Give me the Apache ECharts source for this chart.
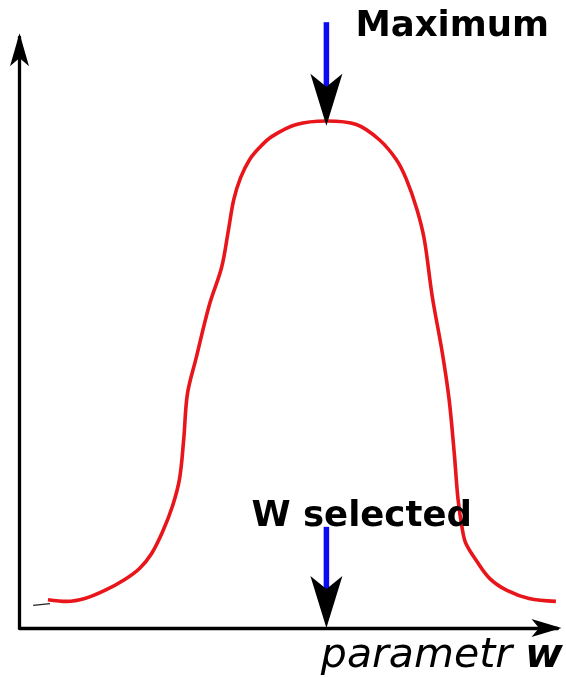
<!DOCTYPE html>
<html>
<head>
<meta charset="utf-8">
<title>Maximum of the objective over parameter w</title>
<script src="https://cdn.jsdelivr.net/npm/echarts@6/dist/echarts.min.js"></script>
<style>
  html, body { margin: 0; padding: 0; background: #fff; }
  #chart { width: 566px; height: 677px; }
</style>
</head>
<body>
<div id="chart"></div>
<script>
// Objective value as a function of the parameter w (arbitrary units)
const wValues = [5.4, 9.0, 12.4, 16.2, 20.0, 22.8, 25.1, 27.2, 29.1, 30.4, 31.2, 31.9, 33.5,
  36.1, 38.4, 39.7, 40.7, 42.0, 43.7, 45.6, 47.9, 52.6, 58.3, 64.0, 68.3, 71.6, 73.5, 75.5,
  76.9, 78.4, 80.3, 81.6, 82.6, 83.3, 84.1, 84.8, 86.9, 89.4, 92.6, 96.8, 101.9];
const objective = [4.9, 4.6, 5.1, 6.5, 8.4, 10.3, 12.9, 16.7, 21.2, 25.8, 32.7, 40.5, 46.5,
  56.0, 62.4, 68.9, 74.1, 77.9, 81.0, 83.1, 85.0, 87.1, 87.7, 87.1, 84.5, 81.0, 77.6, 72.4,
  67.2, 57.4, 47.7, 39.6, 30.1, 22.3, 17.2, 14.6, 11.5, 8.5, 6.5, 5.1, 4.6];

// small stroke leading into the curve
const leadW = [2.6, 5.8];
const leadY = [3.9, 4.2];

// axis extent (the arrows sit beyond the last value)
const axisMax = 102.2;

// w where the maximum is reached (and selected)
const wSelected = 58.3;
// arrow pointing at the maximum: shaft start, tip
const maxArrowY = [104.8, 86.9];
// arrow pointing at the selected w on the axis: shaft start, tip
const selArrowY = [17.5, 0];

const labelMaximum = 'Maximum';
const labelSelected = 'W selected';

const FONT = 'DejaVu Sans';
const RED = '#e8161b';
const BLUE = '#0a0af5';

const zip = (xs, ys) => xs.map((x, i) => [x, ys[i]]);

// blue shaft, ending inside the arrowhead
function shaft(ys) {
  return {
    type: 'line',
    data: [[wSelected, ys[0]], [wSelected, ys[1] + 6]],
    showSymbol: false,
    clip: false,
    silent: true,
    z: 3,
    lineStyle: { color: BLUE, width: 5.5, cap: 'butt' }
  };
}

// black arrowhead, tip on the target value
function head(ys) {
  return {
    type: 'scatter',
    data: [[wSelected, ys[1]]],
    symbol: 'arrow',
    symbolSize: [24, 52],
    symbolRotate: 180,
    clip: false,
    silent: true,
    z: 4,
    itemStyle: { color: '#000', opacity: 1 }
  };
}

// bold caption next to an arrow
function caption(ys, text, offset) {
  return {
    type: 'scatter',
    data: [{ value: [wSelected, ys[0]], name: text }],
    symbolSize: 1,
    clip: false,
    silent: true,
    z: 5,
    itemStyle: { color: 'transparent', opacity: 1 },
    label: {
      show: true,
      position: 'inside',
      offset: offset,
      align: 'left',
      verticalAlign: 'middle',
      formatter: '{b}',
      fontFamily: FONT,
      fontWeight: 'bold',
      fontSize: 35.5,
      color: '#000'
    }
  };
}

const chart = echarts.init(document.getElementById('chart'), null, { renderer: 'canvas' });

chart.setOption({
  animation: false,
  backgroundColor: '#fff',
  grid: { left: 19.5, top: 37.2, width: 539.1, height: 592.3, containLabel: false },
  xAxis: {
    type: 'value',
    min: 0,
    max: axisMax,
    name: '{n|parametr }{b|w}',
    nameLocation: 'end',
    nameGap: 5.5,
    nameTextStyle: {
      align: 'right',
      verticalAlign: 'top',
      padding: [8, 0, 0, 0],
      rich: {
        n: { fontFamily: FONT, fontStyle: 'italic', fontSize: 41, color: '#000' },
        b: { fontFamily: FONT, fontStyle: 'italic', fontWeight: 'bold', fontSize: 41, color: '#000' }
      }
    },
    axisLine: {
      show: true,
      onZero: false,
      symbol: ['none', 'arrow'],
      symbolSize: [13.5, 30],
      symbolOffset: [0, 4],
      lineStyle: { color: '#000', width: 3.3 }
    },
    axisTick: { show: false },
    axisLabel: { show: false },
    splitLine: { show: false }
  },
  yAxis: {
    type: 'value',
    min: 0,
    max: axisMax,
    axisLine: {
      show: true,
      onZero: false,
      symbol: ['none', 'arrow'],
      symbolSize: [14.25, 33],
      symbolOffset: [0, 4],
      lineStyle: { color: '#000', width: 3.3 }
    },
    axisTick: { show: false },
    axisLabel: { show: false },
    splitLine: { show: false }
  },
  series: [
    {
      type: 'line',
      data: zip(leadW, leadY),
      showSymbol: false,
      clip: false,
      silent: true,
      lineStyle: { color: '#222', width: 1.3 }
    },
    {
      type: 'line',
      data: zip(wValues, objective),
      smooth: 0.35,
      showSymbol: false,
      clip: false,
      silent: true,
      z: 2,
      lineStyle: { color: RED, width: 3.6 }
    },
    shaft(maxArrowY),
    head(maxArrowY),
    shaft(selArrowY),
    head(selArrowY),
    caption(maxArrowY, labelMaximum, [29, 4.5]),
    caption(selArrowY, labelSelected, [-75, -10])
  ]
});
</script>
</body>
</html>
